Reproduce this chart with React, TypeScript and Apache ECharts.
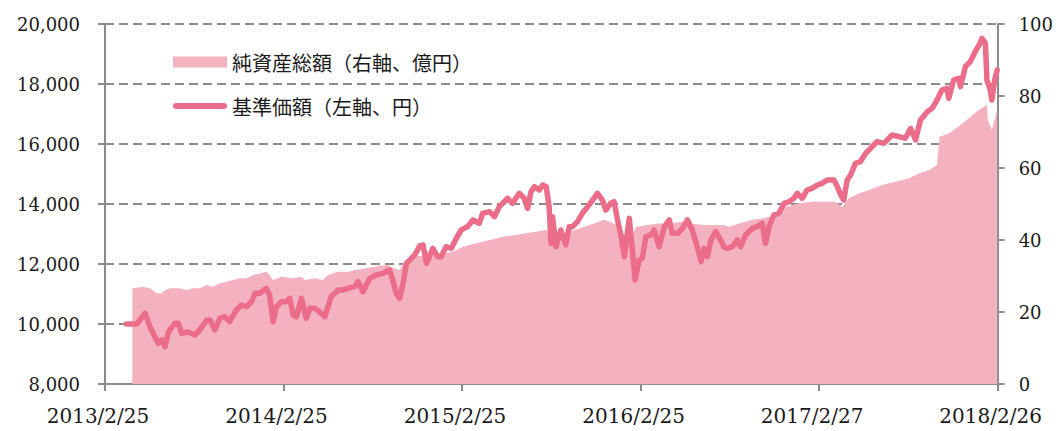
import React, { useEffect, useRef } from "react";
import * as echarts from "echarts";

// x values are days counted from 2013/2/25
const xTickLabels = ["2013/2/25", "2014/2/25", "2015/2/25", "2016/2/25", "2017/2/27", "2018/2/26"];
const totalDays = 1827;

const legendNames = ["純資産総額（右軸、億円）", "基準価額（左軸、円）"];

// 基準価額 (left axis, yen)
const navDays = [
  44, 65, 82, 92, 102, 109, 116, 123, 130, 143, 150, 157, 170, 184, 194, 208, 215, 225, 235, 245,
  255, 269, 279, 290, 300, 307, 317, 330, 337, 344, 351, 361, 371, 378, 385, 392, 402, 412, 419, 429,
  439, 450, 463, 477, 487, 497, 511, 518, 528, 542, 555, 569, 582, 589, 596, 603, 610, 617, 627, 634,
  644, 651, 658, 671, 681, 688, 698, 709, 719, 729, 742, 753, 766, 773, 787, 797, 807, 824, 834, 848,
  858, 865, 872, 879, 889, 896, 903, 909, 913, 916, 923, 933, 943, 950, 957, 967, 977, 988, 998, 1008,
  1018, 1025, 1035, 1042, 1049, 1056, 1063, 1073, 1080, 1085, 1093, 1100, 1107, 1117, 1124, 1134, 1145, 1155, 1161, 1172,
  1182, 1192, 1202, 1213, 1220, 1226, 1233, 1240, 1250, 1260, 1267, 1274, 1284, 1294, 1301, 1311, 1325, 1335, 1345, 1352,
  1359, 1369, 1379, 1390, 1400, 1410, 1417, 1427, 1437, 1447, 1458, 1468, 1478, 1492, 1499, 1506, 1512, 1519, 1526, 1536,
  1546, 1557, 1567, 1580, 1594, 1611, 1625, 1638, 1649, 1659, 1669, 1683, 1693, 1703, 1713, 1723, 1727, 1737, 1747, 1751,
  1761, 1771, 1781, 1791, 1795, 1802, 1805, 1812, 1815, 1821, 1826,
];
const navValues = [
  10000, 10000, 10356, 9910, 9577, 9356, 9467, 9243, 9743, 10022, 10022, 9688, 9733, 9633, 9800, 10133, 10133, 9800, 10190, 10244,
  10077, 10467, 10633, 10577, 10743, 11022, 11022, 11190, 10967, 10077, 10577, 10743, 10743, 10856, 10300, 10244, 10856, 10190, 10522, 10522,
  10411, 10244, 10911, 11133, 11133, 11190, 11245, 11411, 11077, 11522, 11633, 11690, 11800, 11467, 11022, 10856, 11356, 12022, 12190, 12300,
  12600, 12633, 12022, 12522, 12244, 12244, 12577, 12520, 12856, 13133, 13245, 13467, 13356, 13690, 13745, 13577, 13911, 14190, 14022, 14356,
  14190, 13856, 14411, 14577, 14467, 14633, 14577, 13911, 12690, 13577, 12577, 13133, 12633, 13245, 13245, 13411, 13690, 13911, 14133, 14356,
  14133, 13800, 14022, 14078, 13467, 12967, 12244, 13522, 12356, 11467, 12133, 12200, 12911, 12967, 13133, 12577, 13245, 13467, 13022, 13022,
  13190, 13467, 13133, 12522, 12077, 12522, 12244, 12800, 13077, 12800, 12560, 12522, 12577, 12800, 12577, 12967, 13190, 13245, 13356, 12690,
  13245, 13633, 13690, 14022, 14078, 14190, 14356, 14190, 14467, 14522, 14633, 14690, 14800, 14800, 14577, 14300, 14133, 14800, 14967, 15356,
  15411, 15690, 15856, 16078, 16022, 16300, 16245, 16190, 16522, 16133, 16800, 17077, 17190, 17467, 17800, 17856, 17522, 18133, 18190, 17911,
  18577, 18745, 19077, 19356, 19522, 19356, 18133, 17800, 17467, 18133, 18467,
];

// 純資産総額 (right axis, 100 million yen)
const aumDays = [
  56, 78, 92, 106, 116, 123, 133, 153, 167, 180, 194, 208, 221, 235, 249, 262, 276, 290, 303, 317,
  330, 337, 344, 361, 382, 402, 409, 429, 446, 456, 477, 497, 511, 531, 552, 576, 593, 603, 610, 620,
  634, 662, 691, 712, 732, 760, 787, 814, 841, 862, 882, 903, 920, 940, 961, 981, 1001, 1022, 1042, 1063,
  1077, 1087, 1110, 1131, 1158, 1179, 1199, 1226, 1246, 1267, 1277, 1298, 1325, 1345, 1373, 1393, 1420, 1447, 1475, 1495,
  1509, 1522, 1543, 1563, 1591, 1618, 1645, 1665, 1686, 1703, 1708, 1727, 1747, 1768, 1788, 1805, 1807, 1815, 1826,
];
const aumValues = [
  26.6, 27.0, 26.6, 25.2, 25.2, 26.1, 26.6, 26.6, 26.1, 26.6, 26.6, 27.5, 27.0, 28.0, 28.4, 28.9, 29.4, 29.4, 30.3, 30.7,
  31.2, 30.3, 28.9, 29.8, 29.4, 29.8, 28.9, 29.4, 28.9, 30.3, 31.2, 31.2, 31.7, 32.1, 32.6, 33.1, 32.1, 31.7, 33.5, 34.9,
  35.4, 35.8, 36.3, 36.7, 38.1, 39.1, 40.0, 40.9, 41.4, 41.9, 42.3, 42.8, 41.5, 41.9, 42.8, 43.7, 44.6, 45.6, 44.6, 41.5,
  40.5, 43.7, 44.2, 44.6, 44.6, 45.1, 44.6, 44.2, 44.2, 44.2, 43.7, 44.6, 45.6, 46.0, 46.9, 49.2, 50.2, 50.6, 50.6, 50.6,
  49.2, 51.6, 52.9, 53.9, 55.3, 56.2, 57.1, 58.5, 59.4, 60.8, 68.7, 69.6, 71.5, 73.8, 76.1, 77.5, 73.3, 70.6, 76.1,
];

const navData = navDays.map((d, i) => [d, navValues[i]]);
const aumData = aumDays.map((d, i) => [d, aumValues[i]]);

const AXIS_GRAY = "#8c8c8c";
const AREA_COLOR = "#f4b1c0";
const LINE_COLOR = "#eb6d8a";
const TEXT_COLOR = "#1a1a1a";
const SERIF = "'DejaVu Serif', serif";
const CJK = "'Noto Sans CJK JP', sans-serif";
const LINE_ICON = "path://M3,0 L51,0 A3,3 0 0 1 51,6 L3,6 A3,3 0 0 1 3,0 Z";

export default function App() {
  const ref = useRef<HTMLDivElement>(null);

  useEffect(() => {
    if (!ref.current) return;
    const chart = echarts.init(ref.current, undefined, { renderer: "svg" });
    const tickStep = totalDays / 5;
    chart.setOption({
      animation: false,
      backgroundColor: "#ffffff",
      grid: { left: 105, right: 57, top: 24, bottom: 47, containLabel: false },
      legend: {
        show: true,
        orient: "vertical",
        left: 168,
        top: 47,
        itemWidth: 54,
        itemHeight: 11,
        itemGap: 24,
        symbolKeepAspect: true,
        data: [
          { name: legendNames[0], icon: "rect" },
          { name: legendNames[1], icon: LINE_ICON, itemStyle: { color: LINE_COLOR } },
        ],
        textStyle: { fontFamily: CJK, fontSize: 20, color: TEXT_COLOR },
      },
      xAxis: {
        type: "value",
        min: 0,
        max: totalDays,
        interval: tickStep,
        axisLine: { show: true, lineStyle: { color: AXIS_GRAY, width: 2 } },
        axisTick: { show: true, length: 7, lineStyle: { color: AXIS_GRAY, width: 2 } },
        splitLine: { show: false },
        axisLabel: {
          show: true,
          margin: 22,
          fontFamily: SERIF,
          fontSize: 20,
          color: TEXT_COLOR,
          padding: [0, 14, 0, 0],
          showMinLabel: true,
          showMaxLabel: true,
          formatter: (v: number) => xTickLabels[Math.round(v / tickStep)] ?? "",
        },
      },
      yAxis: [
        {
          type: "value",
          position: "left",
          min: 8000,
          max: 20000,
          interval: 2000,
          axisLine: { show: true, lineStyle: { color: AXIS_GRAY, width: 2 } },
          axisTick: { show: true, length: 7, lineStyle: { color: AXIS_GRAY, width: 2 } },
          splitLine: { show: true, lineStyle: { color: AXIS_GRAY, width: 2, type: [9, 5] } },
          axisLabel: {
            margin: 25,
            fontFamily: SERIF,
            fontSize: 18,
            color: TEXT_COLOR,
            formatter: (v: number) => v.toLocaleString("en-US"),
          },
        },
        {
          type: "value",
          position: "right",
          min: 0,
          max: 100,
          interval: 20,
          axisLine: { show: true, lineStyle: { color: AXIS_GRAY, width: 2 } },
          axisTick: { show: true, length: 7, lineStyle: { color: AXIS_GRAY, width: 2 } },
          splitLine: { show: false },
          axisLabel: {
            margin: 21,
            fontFamily: SERIF,
            fontSize: 18,
            color: TEXT_COLOR,
          },
        },
      ],
      series: [
        {
          name: legendNames[0],
          type: "line",
          yAxisIndex: 1,
          data: aumData,
          symbol: "none",
          showSymbol: false,
          color: AREA_COLOR,
          lineStyle: { width: 0, color: AREA_COLOR },
          areaStyle: { color: AREA_COLOR, opacity: 1 },
          z: 1,
        },
        {
          name: legendNames[1],
          type: "line",
          yAxisIndex: 0,
          data: navData,
          symbol: "none",
          showSymbol: false,
          color: LINE_COLOR,
          lineStyle: { width: 5.5, color: LINE_COLOR, cap: "round", join: "round" },
          z: 3,
        },
      ],
    });
    return () => chart.dispose();
  }, []);

  return (
    <div
      ref={ref}
      style={{ position: "absolute", left: 0, top: 0, width: 1056, height: 431 }}
    />
  );
}
